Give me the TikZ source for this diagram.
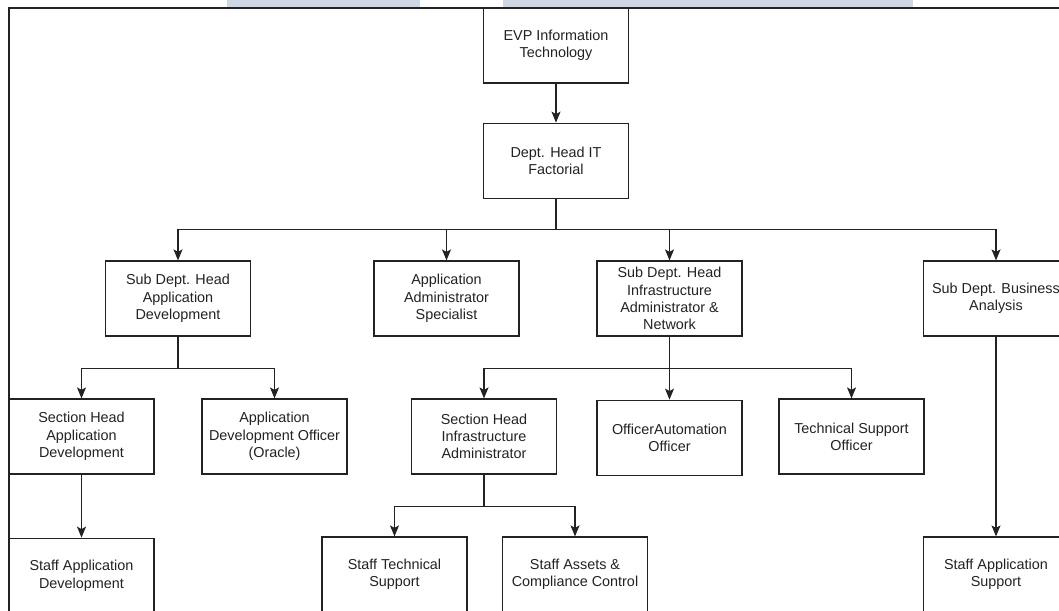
\documentclass[tikz,border=0pt]{standalone}
\usepackage{fontspec}
\setmainfont{Liberation Sans}
\usetikzlibrary{positioning, arrows.meta}

\definecolor{band}{RGB}{205,216,228}
\definecolor{ink}{RGB}{34,34,34}

\tikzset{
  unit/.style={draw=ink, text=ink, line width=1.2pt, minimum width=145pt,
    minimum height=75pt, align=center, inner sep=2pt,
    font=\fontsize{14.4}{17.3}\selectfont},
  link/.style={draw=ink, line width=1.2pt, -{Stealth[length=11pt,width=9pt,inset=2.5pt]}},
}

\begin{document}
\begin{tikzpicture}[x=1pt, y=-1pt]
\useasboundingbox (0,0) rectangle (1059,610);
\clip (0,0) rectangle (1059,610);

% header band and frame
\fill[band] (227,0) rectangle (420,7);
\fill[band] (503,0) rectangle (913,7);
\draw[ink, line width=1.2pt] (9,612) -- (9,8) -- (1060,8);

\node[unit] (evp) at (556,45.5) {EVP Information\\Technology};
\node[unit, below=39pt of evp] (dept) {Dept. Head IT\\Factorial};

\node[unit] (subapp) at (178,298.5) {Sub Dept. Head\\Application\\Development};
\node[unit] (appadm) at (446.5,298.5) {Application\\Administrator\\Specialist};
\node[unit] (subinfra) at (669.5,298.5) {Sub Dept. Head\\Infrastructure\\Administrator \&\\Network};
\node[unit] (subbiz) at (996,298.5) {Sub Dept. Business\\Analysis};

\node[unit] (secapp) at (81.5,436.5) {Section Head\\Application\\Development};
\node[unit] (appdev) at (274.5,436.5) {Application\\Development Officer\\(Oracle)};
\node[unit] (secinfra) at (484,436.5) {Section Head\\Infrastructure\\Administrator};
\node[unit, below=63pt of subinfra] (offauto) {OfficerAutomation\\Officer};
\node[unit] (techsup) at (851.5,436.5) {Technical Support\\Officer};

\node[unit, below=63pt of secapp] (staffdev) {Staff Application\\Development};
\node[unit] (stafftech) at (394.5,574.5) {Staff Technical\\Support};
\node[unit] (staffasset) at (575,574.5) {Staff Assets \&\\Compliance Control};
\node[unit] (staffsup) at (996,574.5) {Staff Application\\Support};

\draw[link] (evp) -- (dept);
\draw[link] (dept.south) -- ++(0,31) -| (subapp.north);
\draw[link] (dept.south) -- ++(0,31) -| (appadm.north);
\draw[link] (dept.south) -- ++(0,31) -| (subinfra.north);
\draw[link] (dept.south) -- ++(0,31) -| (subbiz.north);

\draw[link] (subapp.south) -- ++(0,32) -| (secapp.north);
\draw[link] (subapp.south) -- ++(0,32) -| (appdev.north);
\draw[link] (subinfra.south) -- ++(0,32) -| (secinfra.north);
\draw[link] (subinfra) -- (offauto);
\draw[link] (subinfra.south) -- ++(0,32) -| (techsup.north);

\draw[link] (secapp) -- (staffdev);
\draw[link] (secinfra.south) -- ++(0,32) -| (stafftech.north);
\draw[link] (secinfra.south) -- ++(0,32) -| (staffasset.north);
\draw[link] (subbiz) -- (staffsup);
\end{tikzpicture}
\end{document}
